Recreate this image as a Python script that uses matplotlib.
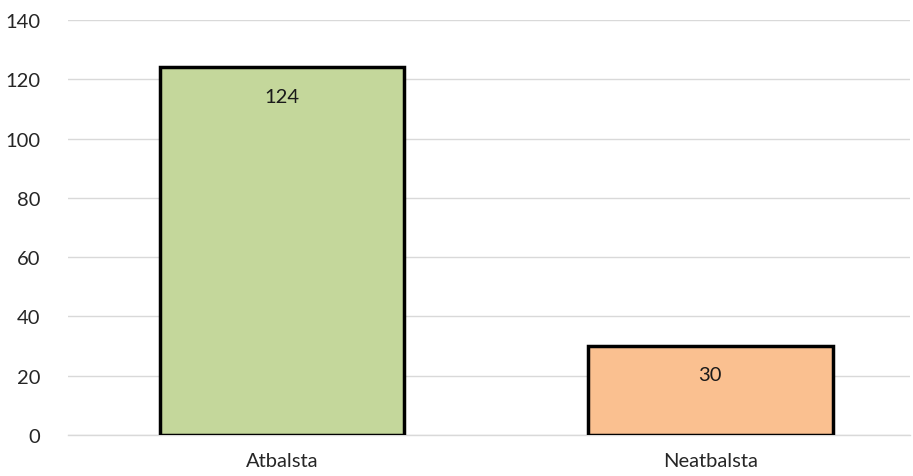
import matplotlib
matplotlib.use("Agg")
import matplotlib.pyplot as plt

categories = ["Atbalsta", "Neatbalsta"]
values = [124, 30]
colors = ["#C4D79B", "#FAC090"]
yticks = [0, 20, 40, 60, 80, 100, 120, 140]

plt.rcParams['font.family'] = ['Lato', 'DejaVu Sans']
fig = plt.figure(figsize=(9.13, 4.77), dpi=100)
ax = fig.add_axes([68/913, 1-436/477, (910-68)/913, (436-21)/477])

x = list(range(len(categories)))
bars = ax.bar(x, values, width=0.572, color=colors, edgecolor="black", linewidth=2.5, zorder=3)
for xi, v in zip(x, values):
    ax.text(xi, v - 9.7, str(v), ha="center", va="center", fontsize=14.5, color="#1a1a1a", zorder=4)

ax.set_xlim(-0.5, 1.467)
ax.set_ylim(0, 140)
ax.set_yticks(yticks)
ax.set_xticks(x)
ax.set_xticklabels(categories)
ax.yaxis.grid(True, color="#D9D9D9", linewidth=1, zorder=0)
for s in ["top", "right", "left"]:
    ax.spines[s].set_visible(False)
ax.spines["bottom"].set_color("#D9D9D9")
ax.spines["bottom"].set_linewidth(1)
ax.tick_params(axis="both", length=0, labelsize=14.5, pad=20)
ax.tick_params(axis="x", pad=12)
for t in ax.get_yticklabels() + ax.get_xticklabels():
    t.set_color("#262626")

fig.savefig("out.png", dpi=100)
